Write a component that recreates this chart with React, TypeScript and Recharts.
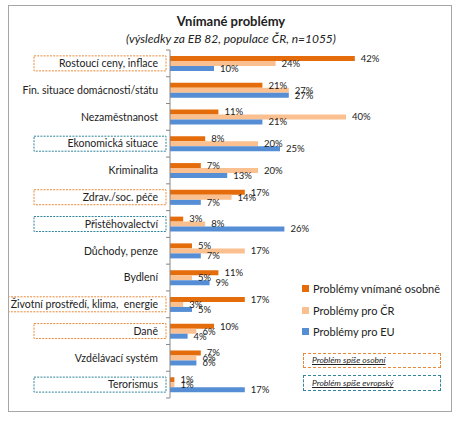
import { BarChart, Bar, XAxis, YAxis, Legend, LabelList } from 'recharts'

const categories = [
    'Rostoucí ceny, inflace',
    'Fin. situace domácnosti/státu',
    'Nezaměstnanost',
    'Ekonomická situace',
    'Kriminalita',
    'Zdrav./soc. péče',
    'Přistěhovalectví',
    'Důchody, penze',
    'Bydlení',
    'Životní prostředí, klima,  energie',
    'Daně',
    'Vzdělávací systém',
    'Terorismus',
]
const osobne = [42, 21, 11, 8, 7, 17, 3, 5, 11, 17, 10, 7, 1]
const proCR = [24, 27, 40, 20, 20, 14, 8, 17, 5, 3, 6, 6, 1]
const proEU = [10, 27, 21, 25, 13, 7, 26, 7, 9, 5, 4, 6, 17]
const seriesNames = ['Problémy vnímané osobně', 'Problémy pro ČR', 'Problémy pro EU']

const personal = ['Rostoucí ceny, inflace', 'Zdrav./soc. péče', 'Životní prostředí, klima,  energie', 'Daně']
const european = ['Ekonomická situace', 'Přistěhovalectví', 'Terorismus']

const FONT = 'Lato, "Open Sans", sans-serif'
const ORANGE = '#E46C0A'
const PEACH = '#FAC08F'
const BLUE = '#558ED5'
const ORANGE_DASH = '#E9893A'
const TEAL_DASH = '#31859C'

const data = categories.map((name, i) => ({
    name,
    osobne: osobne[i],
    cr: proCR[i],
    eu: proEU[i],
}))

let canvas: HTMLCanvasElement | null = null
function textWidth(text: string, font: string) {
    if (!canvas) canvas = document.createElement('canvas')
    const ctx = canvas.getContext('2d')
    if (!ctx) return text.length * 5
    ctx.font = font
    return ctx.measureText(text).width
}

function CategoryTick(props: any) {
    const { x, y, payload } = props
    const label: string = payload.value
    const kind = personal.includes(label) ? ORANGE_DASH : european.includes(label) ? TEAL_DASH : null
    const half = payload.offset ?? 13.4
    const w = Math.max(132, textWidth(label, `10.5px ${FONT}`) + 11)
    return (
        <g>
            {kind && (
                <rect x={x - 4 - w} y={y - 7.5} width={w} height={15} fill="#fff"
                    stroke={kind} strokeWidth={1} strokeDasharray="2 1.2" />
            )}
            <text x={x - 12} y={y} dy="0.36em" textAnchor="end" fontSize={10.5}
                fontFamily={FONT} fill="#222" style={{ whiteSpace: 'pre' }}>
                {label}
            </text>
            <line x1={x - 4} x2={x} y1={y - half} y2={y - half} stroke="#868686" />
            {payload.index === categories.length - 1 && (
                <line x1={x - 4} x2={x} y1={y + half} y2={y + half} stroke="#868686" />
            )}
        </g>
    )
}

function LegendContent(props: any) {
    const items = [...props.payload].sort(
        (a: any, b: any) => seriesNames.indexOf(a.value) - seriesNames.indexOf(b.value)
    )
    return (
        <div style={{ fontFamily: FONT, fontSize: 11, color: '#222' }}>
            {items.map((entry: any) => (
                <div key={entry.value} style={{ display: 'flex', alignItems: 'center', height: 21.5 }}>
                    <span style={{ width: 7, height: 7, background: entry.color, marginRight: 4 }} />
                    <span>{entry.value}</span>
                </div>
            ))}
        </div>
    )
}

const labelStyle = { fontSize: 9.5, fontFamily: FONT, fill: '#222' }
const pct = (v: any) => `${v}%`

export default function App() {
    return (
        <div style={{ position: 'absolute', left: 0, top: 0, width: 464, height: 422, background: '#fff' }}>
            <div style={{
                position: 'absolute', left: 8, top: 5, width: 442, height: 405,
                border: '1px solid #a6a6a6', background: '#fff',
            }}>
                <BarChart
                    width={442}
                    height={405}
                    data={data}
                    layout="vertical"
                    barSize={5}
                    barGap={0}
                    margin={{ top: 44, right: 61, left: 0, bottom: 13 }}
                >
                    <XAxis type="number" domain={[0, 50]} hide />
                    <YAxis
                        type="category"
                        dataKey="name"
                        width={161}
                        tickSize={0}
                        tickMargin={0}
                        tick={<CategoryTick />}
                        axisLine={{ stroke: '#868686' }}
                        interval={0}
                    />
                    <Legend
                        layout="vertical"
                        align="center"
                        verticalAlign="middle"
                        content={<LegendContent />}
                        wrapperStyle={{ left: 293, top: 272, width: 150 }}
                    />
                    <Bar dataKey="osobne" name={seriesNames[0]} fill={ORANGE} isAnimationActive={false}>
                        <LabelList dataKey="osobne" position="right" offset={6} formatter={pct} style={labelStyle} />
                    </Bar>
                    <Bar dataKey="cr" name={seriesNames[1]} fill={PEACH} isAnimationActive={false}>
                        <LabelList dataKey="cr" position="right" offset={6} formatter={pct} style={labelStyle} />
                    </Bar>
                    <Bar dataKey="eu" name={seriesNames[2]} fill={BLUE} isAnimationActive={false}>
                        <LabelList dataKey="eu" position="right" offset={6} formatter={pct} style={labelStyle} />
                    </Bar>
                </BarChart>
            </div>
            <div style={{
                position: 'absolute', left: 0, top: 13, width: 462, textAlign: 'center',
                fontFamily: FONT, fontSize: 13, fontWeight: 'bold', color: '#222',
            }}>
                Vnímané problémy
            </div>
            <div style={{
                position: 'absolute', left: 0, top: 31, width: 462, textAlign: 'center',
                fontFamily: FONT, fontSize: 12, fontStyle: 'italic', color: '#222',
            }}>
                (výsledky za EB 82, populace ČR, n=1055)
            </div>
            <div style={{
                position: 'absolute', left: 303, top: 353, width: 128, height: 13,
                border: `1px dashed ${ORANGE_DASH}`, fontFamily: FONT, fontSize: 8.5,
                fontStyle: 'italic', textDecoration: 'underline', color: '#222',
                lineHeight: '13px', paddingLeft: 8, boxSizing: 'content-box',
            }}>
                Problém spíše osobní
            </div>
            <div style={{
                position: 'absolute', left: 303, top: 375, width: 128, height: 14,
                border: `1px dashed ${TEAL_DASH}`, fontFamily: FONT, fontSize: 8.5,
                fontStyle: 'italic', textDecoration: 'underline', color: '#222',
                lineHeight: '14px', paddingLeft: 8, boxSizing: 'content-box',
            }}>
                Problém spíše evropský
            </div>
        </div>
    )
}
